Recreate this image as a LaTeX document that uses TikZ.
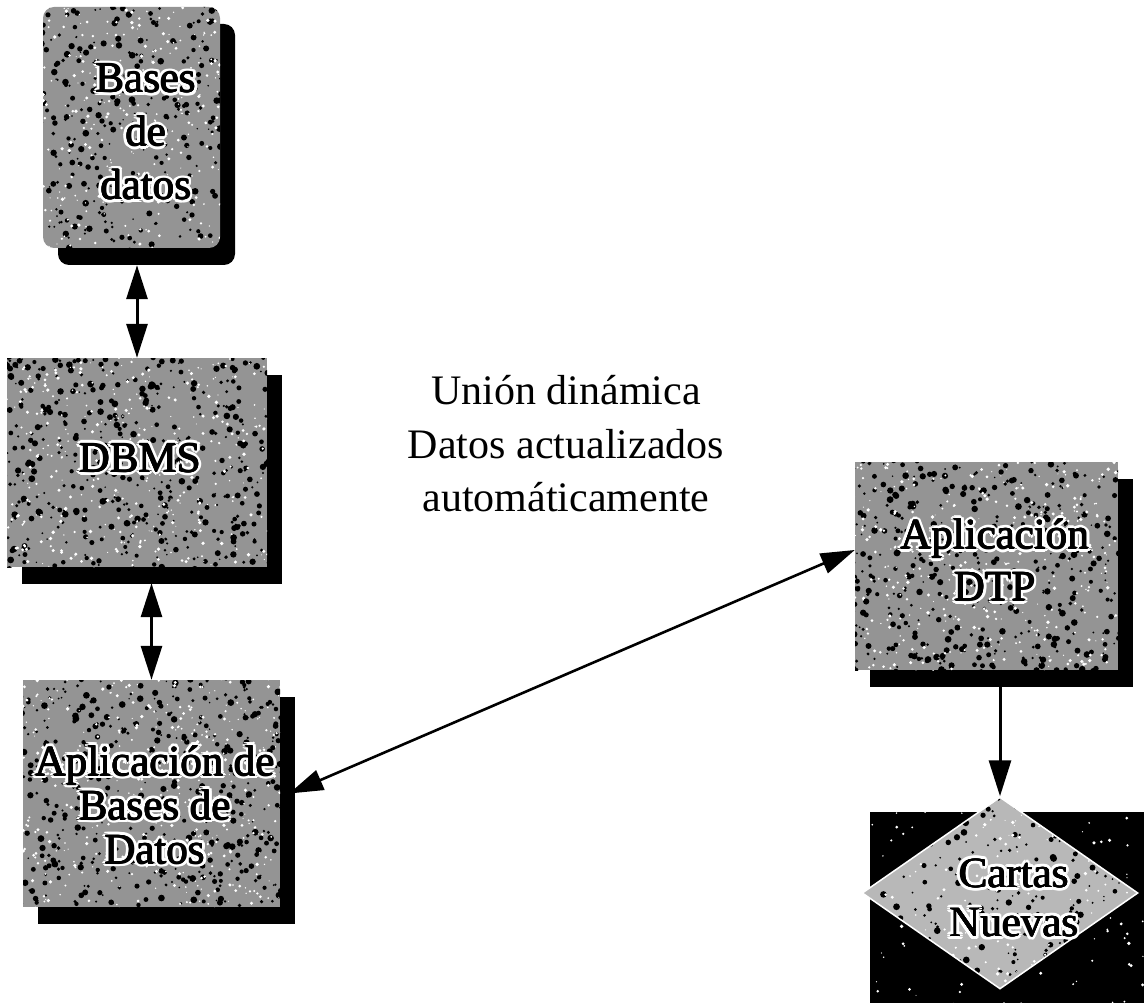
\documentclass[tikz,border=0pt]{standalone}
\usepackage{fontspec}
\setmainfont{Liberation Serif}
\usetikzlibrary{arrows.meta,shapes.geometric,shadows}

\tikzset{
  % mottled stone-like fill: #1 dark blobs, #2 light specks, #3 spread
  speckle/.style n args={3}{path picture={
    \foreach \k in {1,...,#1}{
      \fill[black] ([shift={(rand*#3,rand*#3)}]path picture bounding box.center)
        circle[radius=0.8pt+2.6pt*rnd];}
    \foreach \k in {1,...,#2}{
      \fill[white] ([shift={(rand*#3,rand*#3)}]path picture bounding box.center)
        circle[radius=0.5pt+1.4pt*rnd];}
  }},
  box/.style={draw=none, fill=black!42, inner sep=0pt,
    drop shadow={shadow xshift=15pt, shadow yshift=-17pt, fill=black, opacity=1}},
  lbl/.style={font=\fontsize{43}{#1}\selectfont, align=center, inner sep=0pt},
  lbl/.default=53,
  link/.style={line width=3pt, -{Triangle[length=36pt,width=22pt]}},
  duplex/.style={line width=3pt,
    {Triangle[length=34pt,width=21pt]}-{Triangle[length=34pt,width=21pt]}},
}

% label with a white halo around black letters
\newcommand\halolabel[4]{% #1 name, #2 position, #3 line spacing, #4 text
  \foreach \a in {0,30,...,330}{
    \node[lbl=#3, text=white] at ([shift={(\a:3.2pt)}]#2) {#4};}
  \foreach \a in {0,90,180,270}{
    \node[lbl=#3] at ([shift={(\a:0.45pt)}]#2) {#4};}
  \node[lbl=#3] (#1) at (#2) {#4};
}

\begin{document}
\begin{tikzpicture}[x=1pt,y=-1pt]
\pgfmathsetseed{4242}
\useasboundingbox (0,0) rectangle (1144,1003);

% data store
\node[box, rounded corners=11pt, minimum width=177pt, minimum height=241pt,
      speckle={520}{420}{140pt}] (bases) at (131.5,127.5) {};
\halolabel{basesL}{146,132}{53.5}{Bases\\de\\datos}

% DBMS
\node[box, minimum width=260pt, minimum height=209pt,
      speckle={620}{500}{140pt}] (dbms) at (137,462.5) {};
\halolabel{dbmsL}{140,458}{53}{DBMS}

% database application
\node[box, minimum width=257pt, minimum height=227pt,
      speckle={620}{500}{140pt}] (apdb) at (151.5,793.5) {};
\halolabel{apdbL}{155,805}{44}{Aplicación de\\Bases de\\Datos}

% DTP application
\node[box, minimum width=263pt, minimum height=208pt,
      speckle={620}{500}{140pt}] (dtp) at (986.5,566) {};
\halolabel{dtpL}{995,560}{52}{Aplicación\\DTP}

% new letters: dark panel with a diamond on it
\node[fill=black, inner sep=0pt, minimum width=274pt, minimum height=191pt,
      speckle={1}{160}{150pt}] (cartasbg) at (1007,907.5) {};
\node[diamond, fill=black!28, draw=white, line width=1.5pt, inner sep=0pt,
      minimum width=276pt, minimum height=192pt,
      speckle={380}{260}{145pt}] (cartas) at (1000,893) {};
\halolabel{cartasL}{1014,898}{49}{Cartas\\Nuevas}

% caption of the live link
\node[font=\fontsize{42}{53.5}\selectfont, align=center, inner sep=0pt] (union)
  at (566,444) {Unión dinámica\\Datos actualizados\\automáticamente};

% connectors
\coordinate (bs) at ([yshift=-17pt]bases.south);
\draw[duplex] (bs -| dbms.north) -- (dbms.north);
\coordinate (ds) at ([yshift=-16pt]dbms.south);
\draw[duplex] (ds -| apdb.north) -- (apdb.north);
\draw[duplex, line width=2.6pt] ([xshift=9pt]apdb.east) -- ([yshift=16pt]dtp.west);
\coordinate (ts) at ([yshift=-17pt]dtp.south);
\draw[link] (ts -| cartas.north) -- (cartas.north);
\end{tikzpicture}
\end{document}
